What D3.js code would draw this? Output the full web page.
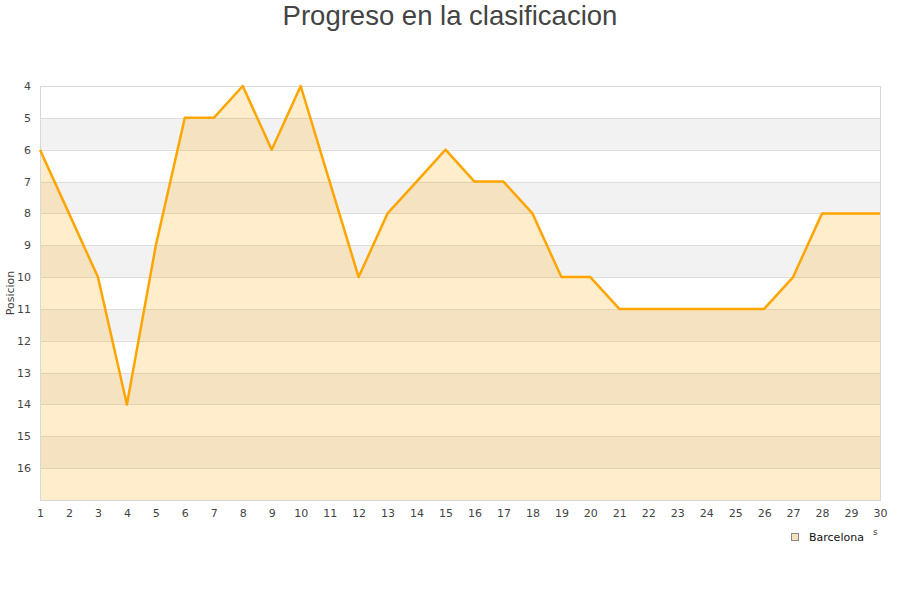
<!DOCTYPE html>
<html><head><meta charset="utf-8">
<script src="https://cdn.jsdelivr.net/npm/d3@7"></script>
<style>body{margin:0;background:#fff;}</style>
</head><body>
<svg id="c" width="900" height="600"></svg>
<script>
const jornadas = d3.range(1, 31);
const posiciones = [6,8,10,14,9,5,5,4,6,4,7,10,8,7,6,7,7,8,10,10,11,11,11,11,11,11,10,8,8,8];
const yTicks = [4,5,6,7,8,9,10,11,12,13,14,15,16];
const seriesName = "Barcelona";
const titleText = "Progreso en la clasificacion";
const yTitle = "Posicion";

const svg = d3.select("#c");
const L = 40, R = 880, T = 86, B = 500;
const x = d3.scaleLinear().domain([1, 30]).range([L, R]);
const y = d3.scaleLinear().domain([4, 17]).range([T, B]);

const bandStarts = [5,7,9,11,13,15];
svg.selectAll("rect.band").data(bandStarts).enter().append("rect")
  .attr("x", L).attr("width", R - L)
  .attr("y", d => y(d)).attr("height", d => y(d + 1) - y(d))
  .attr("fill", "#f2f2f2");
svg.selectAll("line.grid").data(d3.range(5, 17)).enter().append("line")
  .attr("x1", L).attr("x2", R)
  .attr("y1", d => Math.round(y(d)) + 0.5).attr("y2", d => Math.round(y(d)) + 0.5)
  .attr("stroke", "#dddddd").attr("stroke-width", 1);

const data = jornadas.map((j, i) => ({ j, p: posiciones[i] }));
svg.append("path").datum(data)
  .attr("d", d3.area().x(d => x(d.j)).y0(B).y1(d => y(d.p)))
  .attr("fill", "rgba(255,165,0,0.2)");
svg.append("rect").attr("x", L + 0.5).attr("y", T + 0.5).attr("width", R - L).attr("height", B - T)
  .attr("fill", "none").attr("stroke", "#d8d8d8");
svg.append("path").datum(data)
  .attr("d", d3.line().x(d => x(d.j)).y(d => y(d.p)))
  .attr("fill", "none").attr("stroke", "#ffa500").attr("stroke-width", 2.5).attr("stroke-linejoin", "round");

const font = "DejaVu Sans, sans-serif";
const yAxis = svg.append("g").attr("transform", `translate(${L},0)`)
  .call(d3.axisLeft(y).tickValues(yTicks).tickSize(0).tickPadding(9));
yAxis.select(".domain").remove();
yAxis.selectAll("text").attr("font-family", font).attr("font-size", 11).attr("fill", "#444");
const xAxis = svg.append("g").attr("transform", `translate(0,${B})`)
  .call(d3.axisBottom(x).tickValues(jornadas).tickFormat(d3.format("d")).tickSize(0).tickPadding(9));
xAxis.select(".domain").remove();
xAxis.selectAll("text").attr("font-family", font).attr("font-size", 11).attr("fill", "#444");

svg.append("text").attr("x", 450).attr("y", 25).attr("text-anchor", "middle")
  .attr("font-family", "Liberation Sans, Arial, sans-serif").attr("font-size", 27.5).attr("fill", "#444")
  .text(titleText);
svg.append("text").attr("transform", "translate(14,293) rotate(-90)").attr("text-anchor", "middle")
  .attr("font-family", font).attr("font-size", 11).attr("fill", "#444").text(yTitle);
svg.append("text").attr("x", 873).attr("y", 535).attr("font-family", font).attr("font-size", 9).attr("fill", "#444").text("s");

svg.append("rect").attr("x", 791.5).attr("y", 533.5).attr("width", 7).attr("height", 7)
  .attr("fill", "#f5e3c0").attr("stroke", "#888");
svg.append("text").attr("x", 809).attr("y", 541).attr("font-family", font).attr("font-size", 11).attr("fill", "#111").text(seriesName);
</script>
</body></html>
